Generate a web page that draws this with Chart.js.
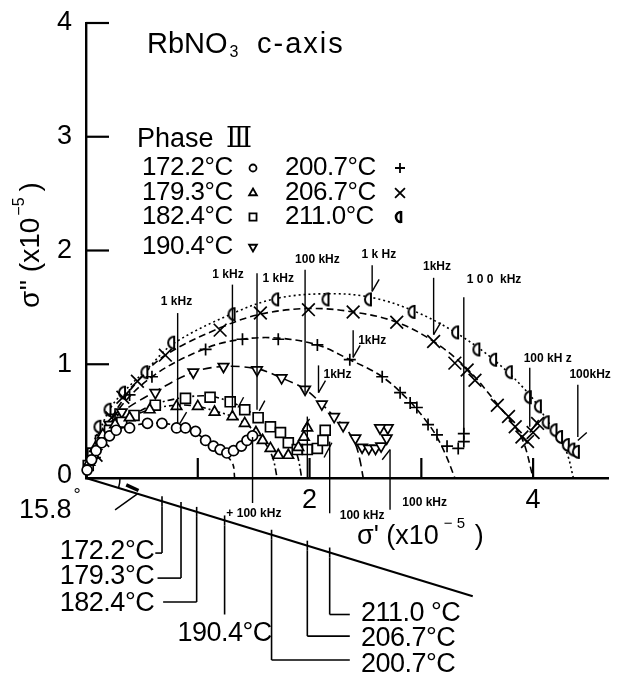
<!DOCTYPE html>
<html>
<head>
<meta charset="utf-8">
<script src="https://cdn.jsdelivr.net/npm/chart.js@4.4.1/dist/chart.umd.min.js"></script>
<style>
  html, body { margin: 0; padding: 0; background: #fff; }
  #wrap { width: 623px; height: 680px; position: relative; }
</style>
</head>
<body>
<div id="wrap"><canvas id="chart"></canvas></div>
<script>
// Temperatures (Phase III) and their symbols
const temps = ['172.2°C', '179.3°C', '182.4°C', '190.4°C', '200.7°C', '206.7°C', '211.0°C'];

// Measured points [σ', σ''] (×10^-5) for each temperature
const s1722 = [[0.01,0.07],[0.05,0.16],[0.09,0.24],[0.14,0.31],[0.21,0.37],[0.27,0.42],[0.39,0.44],[0.55,0.48],[0.68,0.48],[0.81,0.44],[0.89,0.44],[0.98,0.41],[1.07,0.33],[1.14,0.28],[1.20,0.25],[1.26,0.22],[1.32,0.24],[1.39,0.28],[1.44,0.33],[1.49,0.37]];
const s1793 = [[0.03,0.14],[0.08,0.26],[0.15,0.38],[0.26,0.47],[0.39,0.53],[0.57,0.60],[0.81,0.63],[1.00,0.63],[1.15,0.58],[1.31,0.54],[1.42,0.48],[1.52,0.40],[1.58,0.33],[1.65,0.26],[1.72,0.20],[1.81,0.20],[1.90,0.27],[1.95,0.36],[1.98,0.44]];
const s1824 = [[0.02,0.11],[0.06,0.22],[0.13,0.33],[0.21,0.42],[0.32,0.49],[0.43,0.55],[0.62,0.64],[0.89,0.70],[1.11,0.71],[1.29,0.67],[1.42,0.60],[1.54,0.53],[1.65,0.45],[1.74,0.40],[1.81,0.31],[1.89,0.25],[1.98,0.25],[2.07,0.26],[2.12,0.33],[2.14,0.42]];
const s1904 = [[0.06,0.16],[0.13,0.32],[0.21,0.47],[0.32,0.58],[0.62,0.75],[0.96,0.93],[1.23,0.98],[1.53,0.95],[1.75,0.88],[1.96,0.78],[2.11,0.65],[2.22,0.54],[2.30,0.46],[2.41,0.35],[2.47,0.27],[2.53,0.26],[2.59,0.26],[2.64,0.28],[2.69,0.35],[2.70,0.44],[2.63,0.44]];
const s2007 = [[0.08,0.18],[0.15,0.35],[0.26,0.56],[0.39,0.73],[0.59,0.89],[1.07,1.13],[1.40,1.22],[1.72,1.22],[2.07,1.17],[2.36,1.04],[2.65,0.89],[2.81,0.75],[2.90,0.66],[2.96,0.62],[3.06,0.47],[3.14,0.38],[3.23,0.28],[3.33,0.26],[3.38,0.32],[3.38,0.39]];
const s2067 = [[0.09,0.20],[0.15,0.33],[0.23,0.53],[0.33,0.71],[0.46,0.85],[0.71,1.08],[1.20,1.30],[1.56,1.45],[1.99,1.48],[2.39,1.46],[2.78,1.37],[3.11,1.20],[3.30,1.01],[3.41,0.95],[3.48,0.86],[3.68,0.64],[3.78,0.54],[3.84,0.45],[3.90,0.36],[3.95,0.32],[4.00,0.40],[4.04,0.48]];
const s2110 = [[0.12,0.45],[0.21,0.60],[0.34,0.75],[0.54,0.93],[0.78,1.19],[1.32,1.44],[1.71,1.57],[2.16,1.57],[2.54,1.57],[2.93,1.46],[3.32,1.28],[3.51,1.13],[3.66,1.04],[3.80,0.93],[3.97,0.71],[4.06,0.63],[4.13,0.49],[4.20,0.42],[4.25,0.36],[4.31,0.29],[4.36,0.25],[4.40,0.23]];

// Fitted (depressed) arcs drawn through each set, ending on the σ' axis
const a1722 = [[0,0],[0.05,0.16],[0.14,0.31],[0.27,0.42],[0.47,0.47],[0.68,0.48],[0.89,0.44],[1.07,0.34],[1.20,0.25],[1.31,0.13],[1.33,0]];
const a1793 = [[0,0],[0.08,0.26],[0.26,0.47],[0.57,0.60],[0.81,0.64],[1.00,0.63],[1.15,0.59],[1.31,0.54],[1.42,0.48],[1.52,0.40],[1.60,0.31],[1.67,0.18],[1.71,0]];
const a1824 = [[0,0],[0.06,0.22],[0.21,0.42],[0.43,0.56],[0.62,0.65],[0.89,0.71],[1.11,0.72],[1.29,0.67],[1.42,0.61],[1.54,0.53],[1.65,0.45],[1.74,0.38],[1.83,0.30],[1.89,0.20],[1.93,0]];
const a1904 = [[0,0],[0.06,0.16],[0.21,0.47],[0.32,0.58],[0.62,0.76],[0.96,0.93],[1.23,0.98],[1.53,0.96],[1.75,0.88],[1.96,0.78],[2.11,0.65],[2.22,0.54],[2.33,0.43],[2.41,0.30],[2.45,0.16],[2.48,0]];
const a2007 = [[0,0],[0.08,0.18],[0.26,0.56],[0.59,0.89],[1.07,1.14],[1.40,1.22],[1.72,1.23],[2.07,1.17],[2.36,1.04],[2.65,0.89],[2.90,0.67],[3.06,0.48],[3.14,0.36],[3.22,0.20],[3.30,0]];
const a2067 = [[0,0],[0.09,0.22],[0.23,0.53],[0.46,0.85],[0.71,1.08],[1.20,1.32],[1.56,1.44],[1.99,1.49],[2.39,1.46],[2.78,1.37],[3.11,1.20],[3.41,0.96],[3.68,0.65],[3.84,0.45],[3.92,0.30],[4.00,0]];
const a2110 = [[0,0],[0.08,0.30],[0.21,0.60],[0.34,0.76],[0.54,0.95],[0.78,1.18],[1.32,1.45],[1.71,1.58],[2.16,1.62],[2.54,1.59],[2.93,1.47],[3.32,1.27],[3.66,1.03],[3.97,0.73],[4.13,0.50],[4.25,0.33],[4.31,0.20],[4.36,0]];

// Axis ticks and labels
const xTicks = [1, 2, 3, 4];
const xTickLabels = ['', '2', '', '4'];
const yTicks = [0, 1, 2, 3, 4];
const yTickLabels = ['0', '1', '2', '3', '4'];

// Frequency markers: [label, labelX, labelY, lineX, lineTop, lineBottom, arrowHead]
const freqMarks = [
  ['1 kHz',    0.81, 1.55, 0.82, 1.45, 0.48, false],
  ['1 kHz',    1.27, 1.79, 1.31, 1.70, 0.57, false],
  ['1 kHz',    1.72, 1.75, 1.53, 1.80, 0.60, false],
  ['100 kHz',  2.07, 1.92, 1.96, 1.83, 0.75, false],
  ['1 k Hz',   2.62, 1.96, 2.56, 1.87, 1.64, true],
  ['1kHz',     3.14, 1.86, 3.11, 1.76, 1.26, true],
  ['1 0 0  kHz', 3.65, 1.74, 3.38, 1.59, 0.40, false],
  ['1kHz',     2.56, 1.21, 2.39, 1.30, 1.06, true],
  ['1kHz',     2.25, 0.91, 2.08, 0.99, 0.75, true],
  ['100 kH z', 4.13, 1.05, 3.97, 0.97, 0.45, false],
  ['100kHz',   4.51, 0.91, 4.40, 0.82, 0.36, false],
  ['',         0,    0,    1.98, 0.54, 0.00, false],
  ['+ 100 kHz', 1.56, -0.31, 1.49, 0.36, -0.22, false],
  ['100 kHz',  2.47, -0.33, 2.18, 0.32, -0.31, false],
  ['100 kHz',  3.03, -0.22, 2.72, 0.25, -0.28, false]
];
// Short strokes marking the frequency points on the data
const strokes = [[0.84,0.48,0.90,0.58],[1.36,0.62,1.41,0.71],[1.55,0.59,1.60,0.68],[1.94,0.43,2.00,0.52],[2.13,0.18,2.20,0.31],[2.65,0.16,2.72,0.25],[3.97,0.40,4.05,0.51],[4.40,0.33,4.48,0.40]];

// Line of arc centres, depressed 15.8° below the σ' axis
const centreLineEnd = [3.46, -1.04];
const centres = [[0.68,-0.204],[0.85,-0.256],[0.99,-0.298],[1.24,-0.373],[1.66,-0.499],[1.98,-0.595],[2.18,-0.655]];
// Leaders from each centre to its temperature: [bendY, endX, labelX, labelY, align]
const leaders = [
  [-0.66, 0.62, 0.61, -0.65, 'right'],
  [-0.88, 0.64, 0.61, -0.87, 'right'],
  [-1.09, 0.69, 0.61, -1.10, 'right'],
  [-1.20, null, 1.24, -1.37, 'center'],
  [-1.60, 2.36, 2.46, -1.64, 'left'],
  [-1.39, 2.36, 2.46, -1.41, 'left'],
  [-1.20, 2.36, 2.46, -1.19, 'left']
];

const FONT = "'Liberation Sans', Arial, sans-serif";

// Half circle with a vertical bar (symbol for 211.0 °C)
function halfCircle(size, lw) {
  const c = document.createElement('canvas');
  const n = size * 2 + 6;
  c.width = n; c.height = n;
  const g = c.getContext('2d');
  const m = n / 2;
  g.fillStyle = '#fff';
  g.beginPath(); g.arc(m + 1, m, size, Math.PI / 2, Math.PI * 1.5); g.closePath(); g.fill();
  g.strokeStyle = '#000'; g.lineWidth = lw;
  g.beginPath(); g.arc(m + 1, m, size, Math.PI / 2, Math.PI * 1.5); g.stroke();
  g.beginPath(); g.moveTo(m + 1, m - size - 1); g.lineTo(m + 1, m + size + 1); g.stroke();
  return c;
}
const halfBig = halfCircle(6, 2);
const halfSmall = halfCircle(5, 2.6);

const symbols = [
  {pointStyle: 'circle', radius: 5, rotation: 0},
  {pointStyle: 'triangle', radius: 6, rotation: 0},
  {pointStyle: 'rect', radius: 7, rotation: 0},
  {pointStyle: 'triangle', radius: 6, rotation: 180},
  {pointStyle: 'cross', radius: 6, rotation: 0},
  {pointStyle: 'crossRot', radius: 9, rotation: 0},
  {pointStyle: halfBig, radius: 6, rotation: 0}
];
const legendSymbols = [
  {pointStyle: 'circle', radius: 3.5, rotation: 0},
  {pointStyle: 'triangle', radius: 4.5, rotation: 0},
  {pointStyle: 'rect', radius: 5, rotation: 0},
  {pointStyle: 'triangle', radius: 4.5, rotation: 180},
  {pointStyle: 'cross', radius: 5, rotation: 0},
  {pointStyle: 'crossRot', radius: 7, rotation: 0},
  {pointStyle: halfSmall, radius: 5, rotation: 0}
];

const toXY = arr => arr.map(([x, y]) => ({x, y}));
const series = [s1722, s1793, s1824, s1904, s2007, s2067, s2110];
const arcs = [a1722, a1793, a1824, a1904, a2007, a2067, a2110];
const dashes = [[5,4], [7,3,2,3], [7,3,2,3], [9,5], [7,4], [7,4], [2,3]];

const datasets = [];
series.forEach((s, i) => datasets.push({
  label: temps[i],
  data: toXY(s),
  showLine: false,
  pointStyle: symbols[i].pointStyle,
  pointRadius: symbols[i].radius,
  pointHoverRadius: symbols[i].radius,
  rotation: symbols[i].rotation,
  pointBackgroundColor: '#fff',
  pointBorderColor: '#000',
  pointBorderWidth: 1.7,
  clip: false,
  order: 1
}));
arcs.forEach((a, i) => datasets.push({
  label: temps[i] + ' fit',
  data: toXY(a),
  showLine: true,
  pointRadius: 0,
  pointHoverRadius: 0,
  borderColor: '#000',
  borderWidth: 1.6,
  borderDash: dashes[i],
  tension: 0.35,
  fill: false,
  clip: false,
  order: 2
}));

function txt(ctx, s, px, py, size, align, weight, spacing, family) {
  ctx.font = (weight || 'normal') + ' ' + size + 'px ' + (family || FONT);
  ctx.textAlign = align || 'left';
  ctx.textBaseline = 'middle';
  ctx.letterSpacing = (spacing || 0) + 'px';
  ctx.fillText(s, px, py);
  ctx.letterSpacing = '0px';
}
function seg(ctx, x1, y1, x2, y2, w) {
  ctx.lineWidth = w || 1.5;
  ctx.beginPath(); ctx.moveTo(x1, y1); ctx.lineTo(x2, y2); ctx.stroke();
}

const decor = {
  id: 'decor',
  afterDraw(chart) {
    const {ctx} = chart;
    const xs = chart.scales.x, ys = chart.scales.y;
    const X = v => xs.getPixelForValue(v), Y = v => ys.getPixelForValue(v);
    ctx.save();
    ctx.fillStyle = '#000';
    ctx.strokeStyle = '#000';
    ctx.lineCap = 'butt';

    // inward ticks and tick labels
    yTicks.forEach((v, i) => {
      if (v > 0) seg(ctx, X(0), Y(v), X(0) + 23, Y(v), 2.2);
      txt(ctx, yTickLabels[i], X(0) - 14, Y(v) + (v === 0 ? -2 : 0), 27, 'right');
    });
    xTicks.forEach((v, i) => {
      seg(ctx, X(v), Y(0), X(v), Y(0) - 20, 2.2);
      if (xTickLabels[i]) txt(ctx, xTickLabels[i], X(v), Y(0) + 23, 27, 'center');
    });

    // axis titles
    ctx.save();
    ctx.translate(31, 245);
    ctx.rotate(-Math.PI / 2);
    ctx.font = '28px ' + FONT;
    const a = "σ'' (x10", b = ')';
    const wa = ctx.measureText(a).width, wb = ctx.measureText(b).width;
    ctx.font = '16px ' + FONT;
    const ws = ctx.measureText('−5').width;
    let p = -(wa + ws + 8 + wb) / 2;
    txt(ctx, a, p, 0, 28, 'left'); p += wa + 2;
    txt(ctx, '−5', p, -11, 16, 'left'); p += ws + 6;
    txt(ctx, b, p, 0, 28, 'left');
    ctx.restore();

    txt(ctx, "σ' (x10", 357, 537, 27, 'left');
    ctx.font = '27px ' + FONT;
    const wx = ctx.measureText("σ' (x10").width;
    txt(ctx, '− 5', 357 + wx + 5, 524, 15, 'left');
    txt(ctx, ')', 357 + wx + 36, 537, 27, 'left');

    // title and legend
    txt(ctx, 'RbNO', 147, 45, 29, 'left');
    ctx.font = '29px ' + FONT;
    const wr = ctx.measureText('RbNO').width;
    txt(ctx, '3', 147 + wr + 2, 53, 16, 'left');
    txt(ctx, 'c-axis', 257, 45, 29, 'left', 'normal', 2);
    txt(ctx, 'Phase', 137, 140, 27, 'left');
    txt(ctx, 'Ⅲ', 226, 140, 27, 'left', 'normal', 0, "'DejaVu Serif', serif");
    const rowsY = [168, 193, 217, 247];
    const cols = [[0, 1, 2, 3], [4, 5, 6]];
    const colX = [[142, 253], [285, 400]];
    cols.forEach((col, c) => col.forEach((k, r) => {
      txt(ctx, temps[k], colX[c][0], rowsY[r], 26, 'left', 'normal', -0.5);
      const sy = legendSymbols[k];
      ctx.lineWidth = 1.8;
      ctx.fillStyle = '#fff';
      Chart.helpers.drawPoint(ctx, {pointStyle: sy.pointStyle, rotation: sy.rotation, radius: sy.radius, borderWidth: 1.8}, colX[c][1], rowsY[r]);
      ctx.fillStyle = '#000';
    }));

    // frequency markers
    freqMarks.forEach(([label, lx, ly, x0, yTop, yBot, arrow]) => {
      seg(ctx, X(x0), Y(yTop), X(x0), Y(yBot), 1.4);
      if (arrow) {
        seg(ctx, X(x0), Y(yBot), X(x0) + 7, Y(yBot) - 12, 1.4);
      }
      if (label) {
        if (label.startsWith('+')) txt(ctx, label, X(lx) - 34, Y(ly), 12, 'left', 'bold');
        else txt(ctx, label, X(lx), Y(ly), 12, 'center', 'bold');
      }
    });
    strokes.forEach(([x1, y1, x2, y2]) => seg(ctx, X(x1), Y(y1), X(x2), Y(y2), 1.4));

    // line of arc centres with the depression angle
    seg(ctx, X(0), Y(0), X(centreLineEnd[0]), Y(centreLineEnd[1]), 2.2);
    const ang = Math.atan2(Y(centreLineEnd[1]) - Y(0), X(centreLineEnd[0]) - X(0));
    ctx.lineWidth = 1.5;
    ctx.beginPath(); ctx.arc(X(0), Y(0), 34, 0, ang); ctx.stroke();
    seg(ctx, X(0.36), Y(-0.06), X(0.47), Y(-0.11), 3.5);
    seg(ctx, X(0.26), Y(-0.28), X(0.46), Y(-0.14), 1.5);
    txt(ctx, '15.8', X(-0.13), Y(-0.29), 27, 'right');
    txt(ctx, '°', X(-0.13) + 2, Y(-0.16), 18, 'left');

    centres.forEach(([cx, cy], i) => {
      seg(ctx, X(cx), Y(cy) - 5, X(cx), Y(cy) + 5, 1.6);
      const [bendY, endX, labX, labY, align] = leaders[i];
      seg(ctx, X(cx), Y(cy) + 5, X(cx), Y(bendY), 1.6);
      if (endX !== null) seg(ctx, X(cx), Y(bendY), X(endX), Y(bendY), 1.6);
      const t = i === 6 ? '211.0 °C' : temps[i];
      txt(ctx, t, X(labX), Y(labY), 27, align, 'normal', -0.5);
    });
    ctx.restore();
  }
};

new Chart(document.getElementById('chart'), {
  type: 'scatter',
  data: {datasets},
  options: {
    responsive: true,
    maintainAspectRatio: false,
    animation: false,
    events: [],
    layout: {padding: {left: 86, top: 23, right: 15, bottom: 202}},
    plugins: {legend: {display: false}, tooltip: {enabled: false}, title: {display: false}},
    scales: {
      x: {
        type: 'linear', min: 0, max: 4.67,
        grid: {display: false, drawTicks: false},
        ticks: {display: false},
        border: {display: true, color: '#000', width: 2.4}
      },
      y: {
        type: 'linear', min: 0, max: 4,
        grid: {display: false, drawTicks: false},
        ticks: {display: false},
        border: {display: true, color: '#000', width: 2.4}
      }
    }
  },
  plugins: [decor]
});
</script>
</body>
</html>
